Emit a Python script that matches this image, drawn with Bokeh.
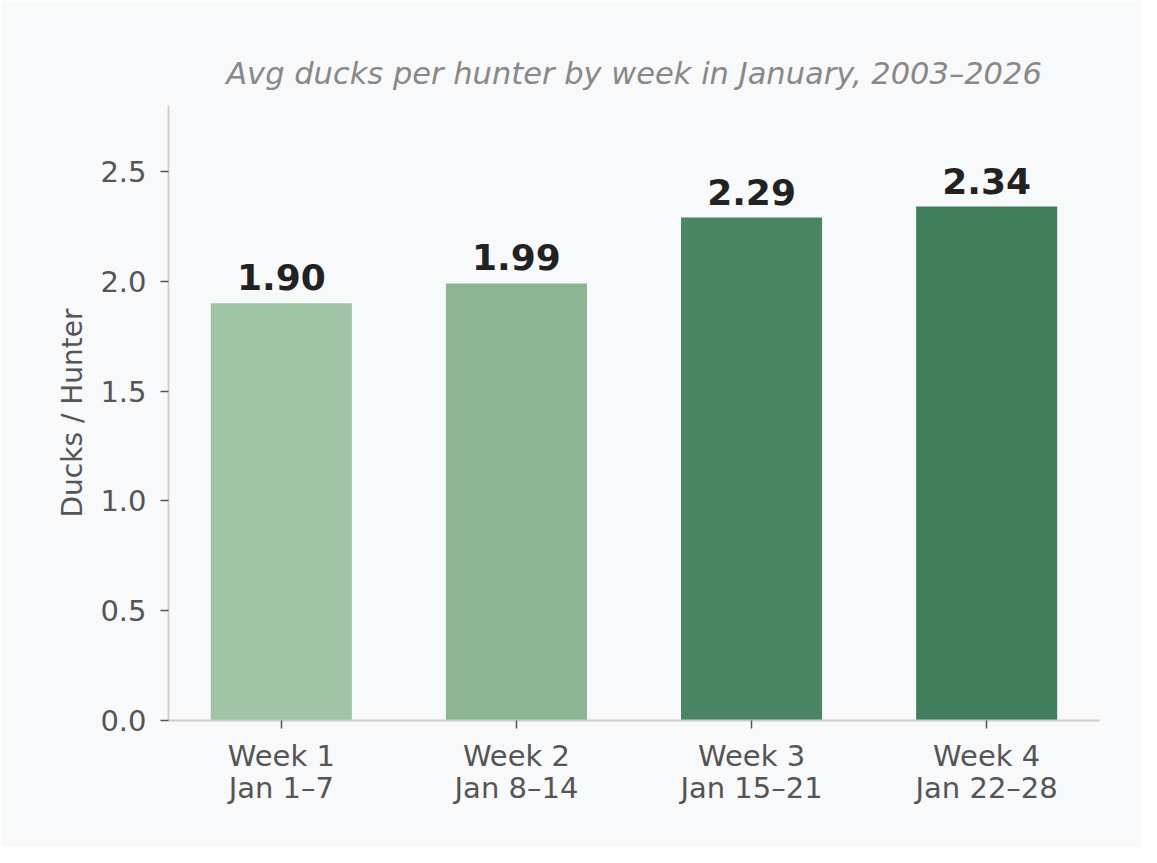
from bokeh.core.properties import value
from bokeh.embed import file_html
from bokeh.models import ColumnDataSource, FixedTicker, LinearAxis, Range1d
from bokeh.plotting import figure
from bokeh.resources import INLINE

# data
weeks = ["Week 1", "Week 2", "Week 3", "Week 4"]
date_spans = ["Jan 1–7", "Jan 8–14", "Jan 15–21", "Jan 22–28"]
avg_ducks = [1.90, 1.99, 2.29, 2.34]
y_ticks = [0.0, 0.5, 1.0, 1.5, 2.0, 2.5]

bar_colors = ["#a0c4a5", "#8cb594", "#4a8564", "#417e5c"]
BG = "#f8f9fb"
FONT = "DejaVu Sans"

idx = list(range(len(weeks)))
source = ColumnDataSource(data=dict(
    x=idx,
    top=avg_ducks,
    color=bar_colors,
    label=[f"{v:.2f}" for v in avg_ducks],
))

p = figure(width=1141, height=847, output_backend="svg", toolbar_location=None,
           tools="", x_range=Range1d(-0.48, len(weeks) - 1 + 0.48),
           y_range=Range1d(0, 2.8),
           background_fill_color=BG, border_fill_color=BG,
           min_border_left=168, min_border_right=42,
           min_border_top=105, min_border_bottom=127)
p.outline_line_color = None
p.grid.grid_line_color = None

p.title.text = "Avg ducks per hunter by week in January, 2003–2026"
p.title.align = "center"
p.title.text_font = FONT
p.title.text_font_style = "italic"
p.title.text_font_size = "30.5px"
p.title.text_color = "#888888"
p.title.standoff = 30

p.vbar(x="x", top="top", width=0.6, color="color", line_color=None, source=source)

p.text(x="x", y="top", text="label", source=source, y_offset=-26,
       text_align="center", text_baseline="alphabetic",
       text_font=value(FONT), text_font_style="bold",
       text_font_size="36px", text_color="#222222")

# second line of the x labels (date spans) as its own axis under the first
date_axis = LinearAxis()
p.add_layout(date_axis, "below")

for ax in (p.xaxis[0], p.yaxis[0], date_axis):
    ax.axis_line_color = "#cccccc"
    ax.axis_line_width = 1.8
    ax.major_tick_line_color = "#555555"
    ax.major_tick_line_width = 1.5
    ax.major_tick_out = 8
    ax.major_tick_in = 0
    ax.minor_tick_line_color = None
    ax.major_label_text_font = FONT
    ax.major_label_text_font_size = "29px"
    ax.major_label_text_color = "#555555"

p.xaxis[0].ticker = FixedTicker(ticks=idx)
p.xaxis[0].major_label_overrides = dict(zip(idx, weeks))
p.xaxis[0].major_label_standoff = 10

date_axis.ticker = FixedTicker(ticks=idx)
date_axis.major_label_overrides = dict(zip(idx, date_spans))
date_axis.axis_line_color = None
date_axis.major_tick_line_color = None
date_axis.major_tick_out = 0
date_axis.major_label_standoff = -5

p.yaxis.ticker = FixedTicker(ticks=y_ticks)
p.yaxis.major_label_overrides = {t: f"{t:.1f}" for t in y_ticks}
p.yaxis.major_label_standoff = 14
p.yaxis.axis_label = "Ducks / Hunter"
p.yaxis.axis_label_text_font = FONT
p.yaxis.axis_label_text_font_style = "normal"
p.yaxis.axis_label_text_font_size = "28px"
p.yaxis.axis_label_text_color = "#555555"
p.yaxis.axis_label_standoff = 8

open("out.html", "w").write(file_html(p, INLINE))
